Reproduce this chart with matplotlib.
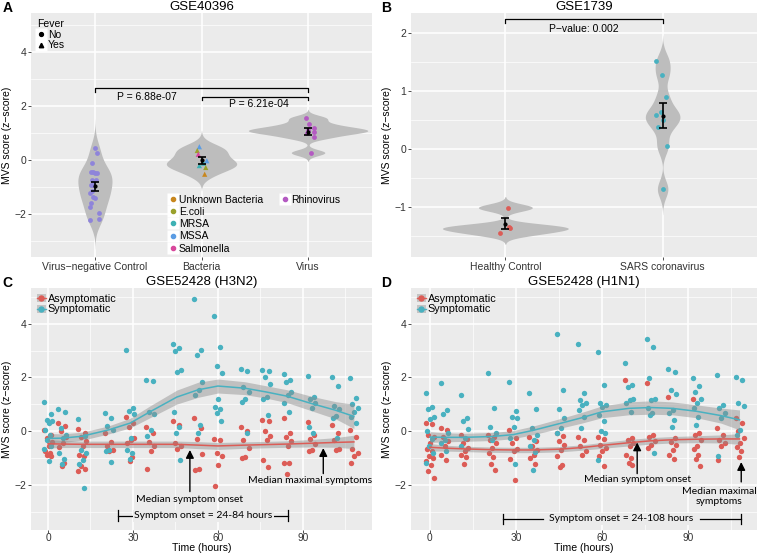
import numpy as np
import matplotlib
matplotlib.use('Agg')
import matplotlib.pyplot as plt
from matplotlib.lines import Line2D
from matplotlib.patches import Rectangle
from matplotlib.ticker import FixedLocator

plt.rcParams['font.family'] = ['Liberation Sans', 'DejaVu Sans']

# ---------------- data: panel A (GSE40396) ----------------
a_groups = ['Virus\u2212negative Control', 'Bacteria', 'Virus']
a_neg = [0.43, 0.27, -0.12, -0.43, -0.45, -0.50, -0.48, -0.74, -0.74, -0.93,
         -0.93, -1.21, -1.17, -1.36, -1.40, -1.60, -1.73, -1.98, -2.22, -2.19]
a_bact = [0.49, 0.35, 0.21, -0.03, -0.12, -0.21, -0.28, -0.53]
a_bact_type = ['MSSA', 'E.coli', 'Salmonella', 'MSSA', 'MRSA', 'MRSA', 'E.coli', 'Unknown Bacteria']
a_virus = [1.55, 1.32, 1.17, 1.12, 1.05, 1.00, 0.84, 0.27]
a_pvals = ['P = 6.88e-07', 'P = 6.21e-04']

# ---------------- data: panel B (GSE1739) ----------------
b_groups = ['Healthy Control', 'SARS coronavirus']
b_healthy = [-1.01, -1.45, -1.34, -1.36]
b_sars = [1.52, 1.28, 0.89, 0.63, 0.59, 0.50, 0.37, 0.05, -0.69]
b_pval = 'P\u2212value: 0.002'

# ---------------- data: panels C/D (GSE52428) ----------------
times = [0, 5, 12, 21.5, 29, 36, 45.5, 53, 60, 69.5, 77, 84.5, 93, 101.5, 108]

h3_sym = [
    [1.07, 0.63, 0.42, 0.36, 0.30, 0.05, -0.13, -0.34, -0.56, -0.65, -1.12],
    [0.82, 0.72, 0.11, -0.13, -0.26, -0.81, -1.05, -1.24],
    [0.45, -0.18, -0.69, -0.81, -1.08, -1.24, -2.10],
    [0.66, 0.48, 0.20, 0.05, -0.69, -0.75, -1.15],
    [3.03, 0.85, 0.75, 0.63, -0.25, -0.69, -0.81, -1.02],
    [1.92, 1.86, 0.70, 0.63, 0.05, -0.17],
    [3.26, 3.09, 2.99, 2.28, 2.22, 0.72, 0.17, -0.07, -1.09],
    [4.91, 3.01, 2.83, 1.83, 1.54, 1.36, 0.22, -0.05],
    [4.30, 3.14, 2.44, 2.16, 1.21, 0.90, 0.81, 0.66, 0.39],
    [2.32, 2.25, 1.64, 1.46, 1.21, 1.09, -0.05],
    [2.28, 2.23, 2.01, 1.74, 1.27, 1.18, 0.60],
    [2.11, 1.89, 1.83, 1.46, 1.33, 1.03, 0.72],
    [2.04, 1.27, 1.18, 1.03, 0.85, 0.15, -0.05],
    [2.01, 1.67, 0.94, 0.82, 0.56, 0.48, -0.26],
    [1.99, 1.25, 1.00, 0.85, 0.72, 0.54, 0.29],
]
h3_asym = [
    [0.05, -0.13, -0.26, -0.42, -0.56, -0.75, -0.81, -0.87, -0.93],
    [0.29, 0.20, -0.01, -0.20, -0.44, -0.59, -1.18, -1.30],
    [0.09, -0.05, -0.20, -0.38, -0.56, -0.87, -0.93, -1.30, -1.40, -1.48],
    [-0.07, -0.42, -0.56, -0.69, -0.75],
    [0.54, 0.29, 0.15, -0.26, -0.34, -0.44, -0.96, -1.12],
    [0.17, -0.05, -0.42, -0.54, -0.75, -1.40],
    [0.36, 0.23, -0.44, -0.56, -0.66],
    [0.48, 0.11, -0.29, -0.85, -1.40, -1.46],
    [-0.29, -0.34, -0.81, -0.91, -1.27, -2.04],
    [0.15, -0.01, -0.32, -0.63, -0.96, -0.99],
    [0.42, 0.36, -0.01, -0.17, -0.32, -1.08, -1.32],
    [0.50, -0.07, -0.22, -0.38, -0.54, -1.18, -1.20, -1.58],
    [0.33, -0.13, -0.29, -0.46, -0.69, -0.75],
    [0.23, -0.05, -0.32, -0.66, -0.70],
    [0.05, -0.22, -0.66, -0.81, -0.91, -1.18],
]
h3_sym_fit = [-0.27, -0.26, -0.19, 0.05, 0.30, 0.72, 1.27, 1.54, 1.68, 1.60, 1.46, 1.30, 1.03, 0.78, 0.55]
h3_sym_se = [0.18, 0.16, 0.15, 0.15, 0.18, 0.22, 0.26, 0.28, 0.26, 0.24, 0.23, 0.24, 0.27, 0.32, 0.45]
h3_asym_fit = [-0.47, -0.48, -0.49, -0.49, -0.49, -0.49, -0.49, -0.52, -0.55, -0.52, -0.50, -0.48, -0.45, -0.42, -0.40]
h3_asym_se = [0.16, 0.13, 0.12, 0.12, 0.12, 0.12, 0.12, 0.13, 0.13, 0.12, 0.12, 0.12, 0.14, 0.18, 0.25]

h1_sym = [
    [1.42, 0.91, 0.81, 0.51, 0.44, -0.01, -0.29, -0.56, -0.81, -1.18],
    [1.80, 0.78, 0.63, -0.07, -0.32, -0.45, -0.75],
    [1.36, 0.48, 0.39, 0.07, -0.26, -0.56],
    [2.17, 0.88, 0.17, -0.07, -0.32],
    [1.83, 0.76, 0.51, 0.48, 0.15, -0.26, -1.24],
    [1.43, 0.82, 0.13, -0.13, -0.32, -0.56, -0.78, -1.45],
    [3.63, 1.52, 0.81, 0.48, 0.11, -0.07],
    [3.24, 1.43, 1.15, 1.05, 0.97, 0.78, 0.54, 0.11],
    [2.93, 1.73, 1.05, 0.97, 0.91, 0.60, 0.39, -0.01, -0.07, -1.09],
    [2.52, 1.70, 1.64, 1.21, 1.15, 1.03, 0.72],
    [3.44, 3.14, 1.97, 1.21, 1.15, 0.85, 0.66, 0.60, -0.81],
    [2.32, 2.20, 1.52, 1.40, 0.78, 0.66, 0.42, 0.15],
    [1.97, 1.68, 1.46, 1.21, 1.03, 0.85, 0.54, 0.23],
    [2.10, 0.97, 0.85, 0.66, 0.48, -0.93],
    [2.03, 1.89, 1.03, 0.93, 0.05, -0.13],
]
h1_asym = [
    [0.29, 0.27, -0.13, -0.22, -0.44, -0.65, -0.75, -0.91, -0.99, -1.12, -1.27, -1.48, -1.73],
    [0.11, 0.05, -0.20, -0.38, -0.56, -0.87, -1.08],
    [-0.13, -0.29, -0.44, -0.63, -0.75, -0.87, -0.95, -1.24],
    [-0.13, -0.23, -0.32, -0.44, -0.63, -0.81, -0.97, -1.24, -1.46],
    [0.05, -0.26, -0.44, -0.66, -0.75, -1.05, -1.81],
    [-0.22, -0.38, -0.56, -0.69, -0.87, -0.99, -1.24],
    [-0.05, -0.17, -0.38, -0.50, -0.69, -0.93, -1.27, -1.32],
    [-0.20, -0.32, -0.56, -0.75, -0.87],
    [-0.20, -0.30, -0.50, -0.63, -0.75, -0.93, -1.30],
    [1.89, -0.26, -0.33, -0.44, -0.56, -0.87, -0.99, -1.18, -1.27],
    [1.79, -0.13, -0.22, -0.38, -0.50, -0.63],
    [1.27, -0.26, -0.42, -0.50, -0.69, -0.87, -1.03],
    [1.18, -0.07, -0.13, -0.32, -0.56, -0.65, -0.87, -1.05, -1.30],
    [0.11, -0.13, -0.32, -0.44, -0.56, -1.08],
    [0.50, 0.29, -0.01, -0.26, -0.44, -0.59, -0.75, -0.96],
]
h1_sym_fit = [-0.22, -0.23, -0.23, -0.20, -0.13, 0.03, 0.29, 0.50, 0.72, 0.85, 0.88, 0.85, 0.74, 0.58, 0.42]
h1_sym_se = [0.20, 0.17, 0.15, 0.15, 0.15, 0.16, 0.18, 0.20, 0.22, 0.24, 0.25, 0.24, 0.24, 0.28, 0.37]
h1_asym_fit = [-0.60, -0.63, -0.66, -0.69, -0.70, -0.70, -0.67, -0.61, -0.53, -0.43, -0.36, -0.32, -0.30, -0.29, -0.29]
h1_asym_se = [0.14, 0.11, 0.10, 0.10, 0.10, 0.10, 0.10, 0.10, 0.11, 0.12, 0.12, 0.12, 0.13, 0.15, 0.20]

# ---------------- styles ----------------
BG = '#EBEBEB'
VIOLIN = '#BDBDBD'
RED = '#DC5C56'
TEAL = '#49B1C0'
TXT = '#333333'
type_colors = {'Unknown Bacteria': '#C8871E', 'E.coli': '#9AA12C', 'MRSA': '#3EB1B4',
               'MSSA': '#5B9CE3', 'Salmonella': '#D8489C', 'Rhinovirus': '#B45AC2'}
NEG_COLOR = '#8E84DA'

# small horizontal jitter (x offsets of the points, as seen on the chart)
jit_neg = [0.0, 0.02, -0.03, -0.04, -0.02, 0.0, 0.02, -0.03, 0.01, -0.04,
           -0.02, -0.05, -0.03, -0.02, 0.0, -0.04, -0.05, 0.04, -0.05, 0.04]
jit_bact = [-0.02, -0.04, -0.03, 0.05, 0.02, -0.02, 0.04, 0.03]
jit_virus = [-0.02, 0.01, 0.06, 0.0, 0.06, -0.01, 0.06, 0.03]
jit_healthy = [0.015, -0.035, 0.02, 0.03]
jit_sars = [-0.04, -0.005, 0.02, -0.01, -0.04, 0.0, -0.03, 0.025, 0.0]
jit_time = [-1.3, 0.9, -0.5, 1.4, 0.2, -1.0, 0.6, -0.2, 1.1, -1.4, 0.4, -0.7, 1.3]

W, H = 758, 553
fig = plt.figure(figsize=(W / 100, H / 100), dpi=100)


def px_axes(l, t, r, b):
    return fig.add_axes([l / W, 1 - b / H, (r - l) / W, (b - t) / H])


def style(ax):
    ax.set_facecolor(BG)
    for s in ax.spines.values():
        s.set_visible(False)
    ax.grid(True, which='major', color='white', lw=1.1)
    ax.grid(True, which='minor', color='white', lw=0.5)
    ax.set_axisbelow(True)
    ax.tick_params(which='major', length=2.2, width=0.6, color=TXT,
                   labelsize=7.5, labelcolor=TXT, pad=1.2)
    ax.tick_params(which='minor', length=0)


def kde(vals, adjust=1.0):
    v = np.asarray(vals, float)
    q1, q3 = np.percentile(v, [25, 75])
    bw = 0.9 * min(v.std(ddof=1), (q3 - q1) / 1.34) * len(v) ** -0.2 * adjust
    ys = np.linspace(v.min() - 3 * bw, v.max() + 3 * bw, 300)
    dens = np.exp(-0.5 * ((ys[:, None] - v[None, :]) / bw) ** 2).sum(1)
    dens /= len(v) * bw * np.sqrt(2 * np.pi)
    return ys, dens


def violins(ax, groups, halves, adjusts):
    for i, (g, half_max, a) in enumerate(zip(groups, halves, adjusts)):
        ys, d = kde(g, a)
        half = d / d.max() * half_max
        ax.fill_betweenx(ys, i + 1 - half, i + 1 + half, color=VIOLIN, lw=0, zorder=2)


def mean_se(ax, pos, vals):
    v = np.asarray(vals, float)
    ax.errorbar(pos, v.mean(), yerr=v.std(ddof=1) / np.sqrt(len(v)), fmt='o', ms=2,
                color='black', lw=1.2, capsize=2.8, capthick=1.2, zorder=5)


def bracket(ax, x1, x2, y, drop):
    ax.plot([x1, x1, x2, x2], [y - drop, y, y, y - drop], color='black', lw=0.9, zorder=4)


def white_key(h):
    return (Line2D([], [], marker='s', ms=8, mfc='white', mec='none', ls=''), h)


# ================= Panel A =================
axA = px_axes(31, 13, 372, 257)
style(axA)
violins(axA, [a_neg, a_bact, a_virus], [0.16, 0.33, 0.56], [1.0, 1.0, 1.0])
axA.scatter(1 + np.array(jit_neg), a_neg, s=12, color=NEG_COLOR, marker='o', lw=0, zorder=3)
axA.scatter(2 + np.array(jit_bact), a_bact, s=14, marker='^', lw=0, zorder=3,
            color=[type_colors[t] for t in a_bact_type])
axA.scatter(3 + np.array(jit_virus), a_virus, s=12, color=type_colors['Rhinovirus'],
            marker='o', lw=0, zorder=3)
for i, g in enumerate([a_neg, a_bact, a_virus]):
    mean_se(axA, i + 1, g)
bracket(axA, 1, 3, 2.67, 0.15)
bracket(axA, 2, 3, 2.35, 0.13)
axA.text(1.49, 2.33, a_pvals[0], ha='center', va='center', fontsize=7.5, color='black')
axA.text(2.54, 2.07, a_pvals[1], ha='center', va='center', fontsize=7.5, color='black')
axA.set_xlim(0.4, 3.6)
axA.set_ylim(-3.6, 5.45)
axA.set_xticks([1, 2, 3])
axA.set_xticklabels(a_groups)
axA.yaxis.set_major_locator(FixedLocator([-2, 0, 2, 4]))
axA.yaxis.set_minor_locator(FixedLocator([-3, -1, 1, 3, 5]))
axA.set_ylabel('MVS score (z\u2212score)', fontsize=7.5, labelpad=2)
axA.set_title('GSE40396', fontsize=9.5, pad=0.8)

fever = axA.legend([white_key(Line2D([], [], marker='o', color='black', ms=2.8, ls='')),
                    white_key(Line2D([], [], marker='^', color='black', ms=3.2, ls=''))],
                   ['No', 'Yes'], title='Fever', loc='upper left', bbox_to_anchor=(0.0, 1.0),
                   frameon=False, fontsize=7.5, title_fontsize=7.5, handlelength=0.8,
                   handletextpad=0.2, labelspacing=0.05, borderpad=0.3, borderaxespad=0.3)
fever._legend_box.align = 'left'
axA.add_artist(fever)

names = ['Unknown Bacteria', 'E.coli', 'MRSA', 'MSSA', 'Salmonella', 'Rhinovirus']
hs = [white_key(Line2D([], [], marker='o', ls='', ms=3, color=type_colors[n])) for n in names]
blank = Line2D([], [], ls='', marker='')
axA.legend(hs + [blank] * 4, names + [''] * 4, ncol=2, loc='upper left',
           bbox_to_anchor=(0.403, 0.256), frameon=False, fontsize=7.5, handlelength=0.8,
           handletextpad=0.2, labelspacing=0.22, columnspacing=1.75, borderpad=0.0,
           borderaxespad=0.0)

# ================= Panel B =================
axB = px_axes(411, 13, 757, 257)
style(axB)
violins(axB, [b_healthy, b_sars], [0.40, 0.11], [1.0, 0.65])
axB.scatter(1 + np.array(jit_healthy), b_healthy, s=12, color=RED, lw=0, zorder=3)
axB.scatter(2 + np.array(jit_sars), b_sars, s=12, color=TEAL, lw=0, zorder=3)
mean_se(axB, 1, b_healthy)
mean_se(axB, 2, b_sars)
bracket(axB, 1, 2, 2.24, 0.07)
axB.text(1.5, 2.06, b_pval, ha='center', va='center', fontsize=7.5, color='black')
axB.set_xlim(0.4, 2.6)
axB.set_ylim(-1.86, 2.34)
axB.set_xticks([1, 2])
axB.set_xticklabels(b_groups)
axB.yaxis.set_major_locator(FixedLocator([-1, 0, 1, 2]))
axB.yaxis.set_minor_locator(FixedLocator([-1.5, -0.5, 0.5, 1.5]))
axB.set_ylabel('MVS score (z\u2212score)', fontsize=7.5, labelpad=2)
axB.set_title('GSE1739', fontsize=9.5, pad=0.8)


# ================= Panels C / D =================
def time_panel(ax, sym, asym, sym_fit, sym_se, asym_fit, asym_se, xlim, title):
    style(ax)
    ax.tick_params(axis='x', which='major', pad=0, length=2.0, labelsize=7.3)
    for cols, color in [(asym, RED), (sym, TEAL)]:
        xs, ys = [], []
        for t, col in zip(times, cols):
            for k, v in enumerate(col):
                xs.append(t + jit_time[k % len(jit_time)])
                ys.append(v)
        ax.scatter(xs, ys, s=15, color=color, lw=0, zorder=2)
    for fit, se, color in [(asym_fit, asym_se, RED), (sym_fit, sym_se, TEAL)]:
        f = np.array(fit)
        e = np.array(se)
        ax.fill_between(times, f - e, f + e, color='#8C8C8C', alpha=0.45, lw=0, zorder=3)
        ax.plot(times, fit, color=color, lw=1.1, zorder=4)
    ax.set_xlim(*xlim)
    ax.set_ylim(-3.68, 5.33)
    ax.xaxis.set_major_locator(FixedLocator([0, 30, 60, 90]))
    ax.xaxis.set_minor_locator(FixedLocator([15, 45, 75, 105]))
    ax.yaxis.set_major_locator(FixedLocator([-2, 0, 2, 4]))
    ax.yaxis.set_minor_locator(FixedLocator([-3, -1, 1, 3, 5]))
    ax.set_ylabel('MVS score (z\u2212score)', fontsize=7.5, labelpad=2)
    ax.set_xlabel('Time (hours)', fontsize=7.6, labelpad=0)
    ax.set_title(title, fontsize=9.5, pad=0.8)
    hs = []
    for color in [RED, TEAL]:
        hs.append((Rectangle((0, 0), 1, 1, fc='#C4C4C4', ec='none'),
                   Line2D([], [], color=color, lw=1),
                   Line2D([], [], marker='o', ms=3.6, ls='', color=color)))
    ax.legend(hs, ['Asymptomatic', 'Symptomatic'], loc='upper left',
              bbox_to_anchor=(0.0, 1.0), frameon=False, fontsize=7.8, handlelength=0.8,
              handleheight=0.8, handletextpad=0.2, labelspacing=0.05, borderpad=0.25,
              borderaxespad=0.3)


def onset_bar(ax, x1, x2, gap1, gap2, y, label):
    for a, b in [(x1, gap1), (gap2, x2)]:
        ax.plot([a, b], [y, y], color='black', lw=0.9, zorder=5)
    for x in (x1, x2):
        ax.plot([x, x], [y + 0.2, y - 0.2], color='black', lw=0.9, zorder=5)
    ax.text((gap1 + gap2) / 2, y, label, ha='center', va='center', zorder=6,
            bbox=dict(fc=BG, ec='none', pad=1), **ANN)


ANN = dict(fontsize=7.5, family=['Lato', 'DejaVu Sans'], color='black')
ARROW = dict(arrowstyle='-|>', color='black', lw=1.0, mutation_scale=12, shrinkA=0, shrinkB=0)

axC = px_axes(31, 288, 372, 530)
time_panel(axC, h3_sym, h3_asym, h3_sym_fit, h3_sym_se, h3_asym_fit, h3_asym_se,
           (-6.0, 114.4), 'GSE52428 (H3N2)')
axC.annotate('', xy=(50.1, -0.70), xytext=(50.1, -2.25), arrowprops=ARROW, zorder=6)
axC.text(50.1, -2.56, 'Median symptom onset', ha='center', va='center', **ANN)
axC.annotate('', xy=(97.2, -0.63), xytext=(97.2, -1.58), arrowprops=ARROW, zorder=6)
axC.text(92.5, -1.85, 'Median maximal symptoms', ha='center', va='center', **ANN)
onset_bar(axC, 24.6, 84.9, 30.5, 79.2, -3.15, 'Symptom onset = 24-84 hours')

axD = px_axes(411, 288, 757, 530)
time_panel(axD, h1_sym, h1_asym, h1_sym_fit, h1_sym_se, h1_asym_fit, h1_asym_se,
           (-6.6, 114.1), 'GSE52428 (H1N1)')
axD.annotate('', xy=(72.3, -0.42), xytext=(72.3, -1.58), arrowprops=ARROW, zorder=6)
axD.text(72.3, -1.79, 'Median symptom onset', ha='center', va='center', **ANN)
axD.annotate('', xy=(108.6, -1.15), xytext=(108.6, -1.89), arrowprops=ARROW, zorder=6)
axD.text(100.9, -2.43, 'Median maximal\nsymptoms', ha='center', va='center',
         linespacing=1.25, **ANN)
onset_bar(axD, 25.5, 108.6, 39.4, 94.1, -3.27, 'Symptom onset = 24-108 hours')

for lab, x, y in [('A', 8, 8), ('B', 386, 8), ('C', 7, 283), ('D', 386, 283)]:
    fig.text(x / W, 1 - y / H, lab, fontsize=10, fontweight='bold', ha='center', va='center')

fig.savefig('out.png', dpi=100)
